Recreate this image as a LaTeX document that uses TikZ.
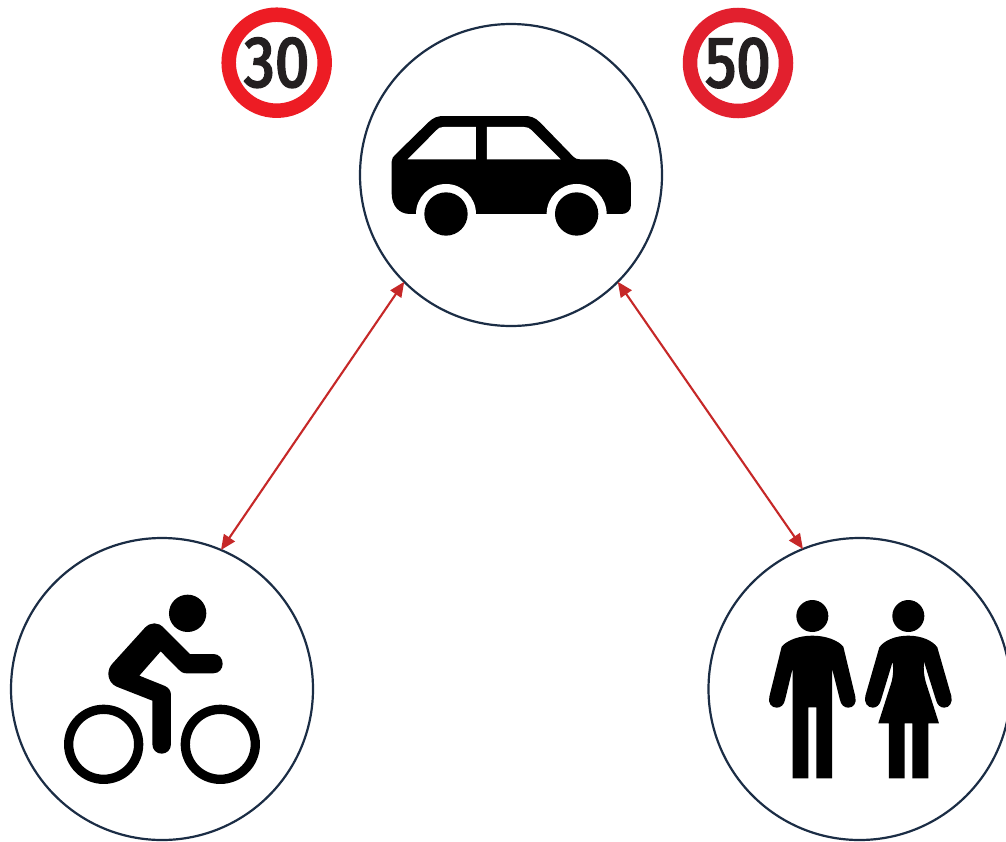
\documentclass[tikz,border=0pt]{standalone}
\usepackage{fontspec}
\usetikzlibrary{arrows.meta}
\setmainfont{Fira Sans}
\newfontfamily\signfont[FakeStretch=0.86,FakeBold=3]{Fira Sans}
\definecolor{ringnavy}{HTML}{1B2D45}
\definecolor{arrowred}{HTML}{C62828}
\definecolor{signred}{HTML}{ED1C24}
\definecolor{signredb}{HTML}{E2202E}
\definecolor{signink}{HTML}{231F20}
\tikzset{
  bigcircle/.style={circle,draw=ringnavy,line width=2.2pt,fill=white,minimum size=302pt,inner sep=0pt,outer sep=0pt},
  sign/.style={circle,fill=white,line width=14.5pt,minimum size=96pt,inner sep=0pt,outer sep=0pt,text=signink,font=\fontsize{72}{72}\signfont},
  link/.style={draw=arrowred,line width=2.1pt,{Triangle[length=15pt,width=13pt]}-{Triangle[length=15pt,width=13pt]}},
  icon/.style={fill=black,draw=none},
  hole/.style={fill=white,draw=none}
}
\begin{document}
\begin{tikzpicture}[x=1pt,y=-1pt]
\useasboundingbox[fill=white] (0,0) rectangle (1006,841);
\node[bigcircle] (car) at (511,175) {};
\node[bigcircle] (bike) at (162,689) {};
\node[bigcircle] (people) at (859.5,689) {};
\node[sign,draw=signred] (s30) at (276.7,62.7) {30};
\node[sign,draw=signredb] (s50) at (738,63) {50};
\draw[link] (car.225) -- (bike.67);
\draw[link] (car.-45.5) -- (people.112.5);
% car
\begin{scope}[shift={(360,90)},x=0.3333pt,y=-0.3333pt]
\fill[icon] (95,215) .. controls (95,205) and (100,200) .. (105,195) -- (205,97) .. controls (220,82) and (235,78) .. (250,78) -- (495,78) .. controls (510,78) and (525,82) .. (540,97) -- (640,200) .. controls (645,205) and (650,208) .. (660,208) -- (735,208) .. controls (785,208) and (813,245) .. (813,285) -- (813,345) .. controls (813,362) and (800,372) .. (785,372) -- (150,372) .. controls (115,372) and (95,345) .. (95,310) -- cycle;
\fill[hole] (143,208) -- (228,122) .. controls (235,114) and (240,111) .. (250,111) -- (348,111) -- (348,208) -- cycle;
\fill[hole] (381,208) -- (381,111) -- (492,111) .. controls (502,111) and (508,114) .. (514,120) -- (602,208) -- cycle;
\fill[hole] (258,372) circle[radius=90];
\fill[hole] (650,372) circle[radius=90];
\fill[icon] (258,372) circle[radius=65];
\fill[icon] (650,372) circle[radius=65];
\end{scope}
% cyclist
\begin{scope}[shift={(50,580)},x=0.3333pt,y=-0.3333pt]
\fill[icon] (413,100) circle[radius=56];
\draw[line width=9.3pt] (161,493) circle[radius=105];
\draw[line width=9.3pt] (511,493) circle[radius=105];
\fill[icon] (420,222) -- (490,222) .. controls (508,222) and (518,236) .. (518,251) .. controls (518,266) and (508,280) .. (490,280) -- (410,280) .. controls (398,280) and (392,275) .. (385,268) -- (332,214) -- (268,287) -- (345,318) .. controls (356,323) and (363,332) .. (363,345) -- (363,492) .. controls (363,510) and (350,521) .. (335,521) .. controls (320,521) and (307,510) .. (307,492) -- (307,362) -- (200,320) .. controls (185,314) and (175,298) .. (175,282) .. controls (175,270) and (180,258) .. (188,250) -- (285,143) .. controls (293,135) and (302,130) .. (313,130) .. controls (324,130) and (333,135) .. (341,143) -- cycle;
\end{scope}
% people
\begin{scope}[shift={(750,590)},x=0.3333pt,y=-0.3333pt]
\fill[icon] (187,78) circle[radius=48];
\fill[icon] (475,78) circle[radius=48];
\fill[icon] (187,137) .. controls (145,137) and (110,152) .. (95,170) -- (58,320) .. controls (53,340) and (65,353) .. (80,353) .. controls (92,353) and (102,345) .. (105,330) -- (128,235) -- (128,565) -- (175,565) -- (175,352) -- (199,352) -- (199,565) -- (246,565) -- (246,235) -- (270,330) .. controls (273,345) and (283,353) .. (295,353) .. controls (310,353) and (321,340) .. (316,320) -- (280,170) .. controls (265,152) and (230,137) .. (187,137) -- cycle;
\fill[icon] (475,137) .. controls (435,137) and (402,152) .. (388,172) -- (346,318) .. controls (341,338) and (353,353) .. (368,353) .. controls (380,353) and (389,345) .. (393,330) -- (428,215) .. controls (430,240) and (430,255) .. (425,275) -- (385,400) -- (417,400) -- (417,565) -- (464,565) -- (464,400) -- (487,400) -- (487,565) -- (535,565) -- (535,400) -- (567,400) -- (527,275) .. controls (522,255) and (520,240) .. (522,215) -- (558,330) .. controls (562,345) and (571,353) .. (583,353) .. controls (598,353) and (609,338) .. (604,318) -- (562,172) .. controls (548,152) and (515,137) .. (475,137) -- cycle;
\end{scope}
\end{tikzpicture}
\end{document}
